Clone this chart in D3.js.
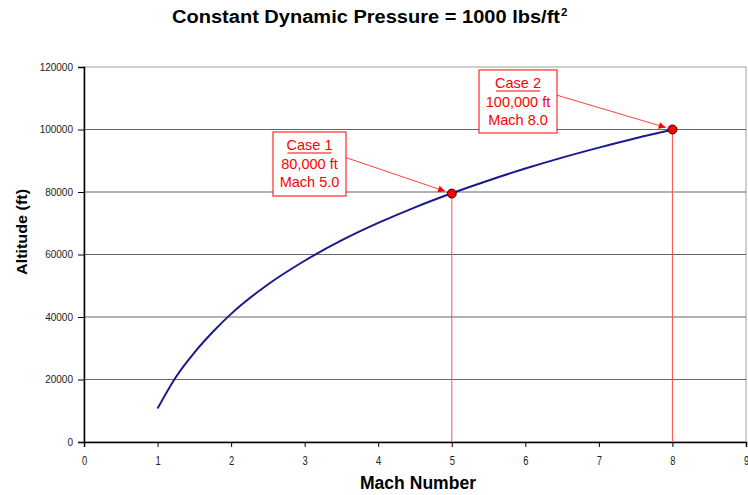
<!DOCTYPE html>
<html><head><meta charset="utf-8">
<script src="https://cdn.jsdelivr.net/npm/d3@7"></script>
<style>body{margin:0;background:#fff;}svg{display:block;font-family:Arial,"Liberation Sans",sans-serif;}</style>
</head><body><svg id="c" width="748" height="495"></svg>
<script>
const mach = [1.0, 1.25, 1.5, 1.75, 2.0, 2.5, 3.0, 3.5, 4.0, 4.5, 5.0, 5.5, 6.0, 6.5, 7.0, 7.5, 8.0];
const altitude = [10700, 20800, 28600, 35200, 41000, 50400, 58000, 64500, 70100, 75100, 79600, 83700, 87500, 91000, 94200, 97200, 99900];
const xTicks = [0,1,2,3,4,5,6,7,8,9];
const yTicks = [0,20000,40000,60000,80000,100000,120000];
const cases = [
  {name:"Case 1", lines:["80,000 ft","Mach 5.0"], mach:5, alt:79500},
  {name:"Case 2", lines:["100,000 ft","Mach 8.0"], mach:8, alt:100000}
];
const title = "Constant Dynamic Pressure = 1000 lbs/ft";

const svg = d3.select("#c");
const L=84, R=746, T=67, B=442;
const x = d3.scaleLinear().domain([0,9]).range([L,R]);
const y = d3.scaleLinear().domain([0,120000]).range([B,T]);

// plot border (light)
svg.append("rect").attr("x",L).attr("y",T).attr("width",R-L).attr("height",B-T)
  .attr("fill","none").attr("stroke","#c0c0c0").attr("stroke-width",1.5);
// gridlines
svg.append("g").selectAll("line").data(yTicks.filter(d=>d>0&&d<120000)).join("line")
  .attr("x1",L).attr("x2",R).attr("y1",d=>y(d)).attr("y2",d=>y(d))
  .attr("stroke","#666").attr("stroke-width",1.2);

// axes
const yAxis = svg.append("g").attr("transform",`translate(${L},0)`)
  .call(d3.axisLeft(y).tickValues(yTicks).tickFormat(d3.format("d")).tickSize(6).tickPadding(5));
const xAxis = svg.append("g").attr("transform",`translate(0,${B})`)
  .call(d3.axisBottom(x).tickValues(xTicks).tickSize(5).tickPadding(9));
[yAxis,xAxis].forEach(a=>{
  a.select(".domain").attr("stroke","#000").attr("stroke-width",1.5);
  a.selectAll(".tick line").attr("stroke","#000");
  a.selectAll("text").attr("font-size",10).attr("fill","#222").attr("font-family","Arial, 'Liberation Sans', sans-serif");
});
xAxis.selectAll("text").attr("font-size",12.5).attr("transform","scale(0.75,1)");

// red drop lines
svg.append("g").selectAll("line").data(cases).join("line")
  .attr("x1",d=>x(d.mach)).attr("x2",d=>x(d.mach)).attr("y1",d=>y(d.alt)).attr("y2",B)
  .attr("stroke","#ff5050").attr("stroke-width",1);

// curve
svg.append("path").datum(mach.map((m,i)=>[m,altitude[i]]))
  .attr("d",d3.line().x(d=>x(d[0])).y(d=>y(d[1])).curve(d3.curveMonotoneX))
  .attr("fill","none").attr("stroke","#1a1a8c").attr("stroke-width",2);

// arrowhead
svg.append("defs").append("marker").attr("id","ah").attr("viewBox","0 0 10 10")
  .attr("refX",10).attr("refY",5).attr("markerWidth",9).attr("markerHeight",7)
  .attr("markerUnits","userSpaceOnUse").attr("orient","auto")
  .append("path").attr("d","M0,0L10,5L0,10z").attr("fill","#ff0000");

// annotation boxes
const boxes = [
  {x0:273,y0:132,w:73,h:64},
  {x0:479,y0:70,w:78,h:63}
];
cases.forEach((c,i)=>{
  const b = boxes[i];
  const ax = b.x0+b.w, ay = b.y0 + b.h*0.4;
  const tx = x(c.mach), ty = y(c.alt);
  const ang = Math.atan2(ty-ay, tx-ax);
  svg.append("line").attr("x1",ax).attr("y1",ay)
    .attr("x2",tx-7*Math.cos(ang)).attr("y2",ty-7*Math.sin(ang))
    .attr("stroke","#ff4040").attr("stroke-width",1).attr("marker-end","url(#ah)");
  svg.append("rect").attr("x",b.x0).attr("y",b.y0).attr("width",b.w).attr("height",b.h)
    .attr("fill","#fff").attr("stroke","#ff0000").attr("stroke-width",1);
  const cx = b.x0+b.w/2;
  svg.append("text").attr("x",cx).attr("y",b.y0+18).attr("text-anchor","middle")
    .attr("font-size",14.5).attr("fill","#ff0000").text(c.name);
  svg.append("line").attr("x1",cx-22).attr("x2",cx+22).attr("y1",b.y0+21).attr("y2",b.y0+21)
    .attr("stroke","#ff0000").attr("stroke-width",1.2);
  c.lines.forEach((t,j)=>{
    svg.append("text").attr("x",cx).attr("y",b.y0+37+j*18).attr("text-anchor","middle")
      .attr("font-size",14.5).attr("fill","#ff0000").text(t);
  });
});

// points
svg.append("g").selectAll("circle").data(cases).join("circle")
  .attr("cx",d=>x(d.mach)).attr("cy",d=>y(d.alt)).attr("r",4.5)
  .attr("fill","#ff0000").attr("stroke","#400000").attr("stroke-width",1);

// title
const tt = svg.append("text").attr("x",172).attr("y",23)
  .attr("font-size",17.5).attr("font-weight","bold").attr("fill","#000");
tt.append("tspan").attr("textLength",388).attr("lengthAdjust","spacingAndGlyphs").text(title);
tt.append("tspan").attr("font-size",11.5).attr("dy",-7).attr("dx",1).text("2");

// axis titles
svg.append("text").attr("transform","translate(27,232) rotate(-90)").attr("text-anchor","middle")
  .attr("font-size",15.5).attr("font-weight","bold")
  .attr("textLength",86).attr("lengthAdjust","spacingAndGlyphs").text("Altitude (ft)");
svg.append("text").attr("x",418).attr("y",489).attr("text-anchor","middle")
  .attr("font-size",18).attr("font-weight","bold")
  .attr("textLength",116).attr("lengthAdjust","spacingAndGlyphs").text("Mach Number");
</script></body></html>
